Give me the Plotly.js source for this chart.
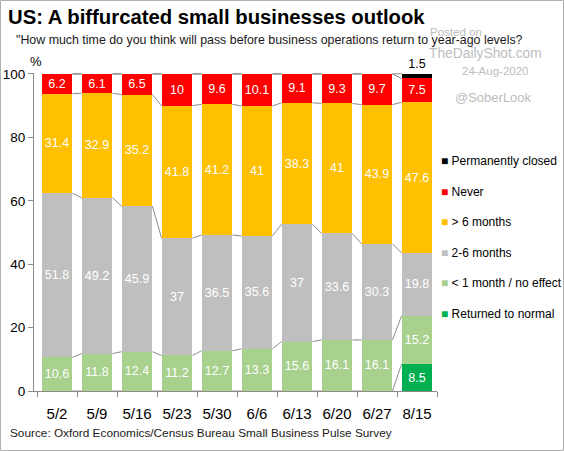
<!DOCTYPE html>
<html><head><meta charset="utf-8">
<script src="https://cdn.plot.ly/plotly-3.0.1.min.js"></script>
<style>html,body{margin:0;padding:0;background:#fff;} #chart{width:564px;height:451px;}</style>
</head><body><div id="chart"></div>
<script>
// ---- data ----
const categories = ['5/2','5/9','5/16','5/23','5/30','6/6','6/13','6/20','6/27','8/15'];
const returnedToNormal  = [0, 0, 0, 0, 0, 0, 0, 0, 0, 8.5];
const lessThan1Month    = [10.6, 11.8, 12.4, 11.2, 12.7, 13.3, 15.6, 16.1, 16.1, 15.2];
const twoToSixMonths    = [51.8, 49.2, 45.9, 37, 36.5, 35.6, 37, 33.6, 30.3, 19.8];
const moreThan6Months   = [31.4, 32.9, 35.2, 41.8, 41.2, 41, 38.3, 41, 43.9, 47.6];
const never             = [6.2, 6.1, 6.5, 10, 9.6, 10.1, 9.1, 9.3, 9.7, 7.5];
const permanentlyClosed = [0, 0, 0, 0, 0, 0, 0, 0, 0, 1.5];
const seriesNames = ['Returned to normal', '< 1 month / no effect', '2-6 months', '> 6 months', 'Never', 'Permanently closed'];
const yTicks = [0, 20, 40, 60, 80, 100];

// ---- styling ----
const seriesValues = [returnedToNormal, lessThan1Month, twoToSixMonths, moreThan6Months, never, permanentlyClosed];
const seriesColors = ['#00B050', '#A9D18E', '#BFBFBF', '#FFC000', '#FF0000', '#000000'];
const FONT = 'Liberation Sans, Arial, sans-serif';
const W = 564, H = 451, L = 34, R = 127, T = 73, B = 60;
const PW = W - L - R, PH = H - T - B;
const px = x => (x - L) / PW;
const py = y => (H - B - y) / PH;
const BW = 0.77;
const idx = categories.map((c, i) => i);

const traces = [];
seriesValues.forEach((vals, s) => {
  const isTop = s === seriesValues.length - 1;
  traces.push({
    type: 'bar', x: idx, y: vals, name: seriesNames[s], width: BW,
    marker: {color: seriesColors[s], line: {width: 0}},
    text: vals.map(v => v > 0 ? String(v) : ''),
    textposition: isTop ? 'outside' : 'inside',
    insidetextanchor: 'middle',
    constraintext: 'none',
    textangle: 0,
    textfont: {family: FONT, size: 12.5, color: isTop ? '#000' : '#fff'},
    cliponaxis: false,
    showlegend: false,
    hoverinfo: 'skip'
  });
});

// series lines connecting stacked levels between adjacent bars
const cum = [];
seriesValues.forEach((vals, s) => {
  cum.push(vals.map((v, i) => v + (s > 0 ? cum[s - 1][i] : 0)));
});
const slx = [], sly = [];
cum.forEach(level => {
  for (let i = 0; i < categories.length - 1; i++) {
    slx.push(i + BW / 2, i + 1 - BW / 2, null);
    sly.push(level[i], level[i + 1], null);
  }
});
traces.push({type: 'scatter', mode: 'lines', x: slx, y: sly, line: {color: '#6f6f6f', width: 0.8},
  showlegend: false, hoverinfo: 'skip', cliponaxis: false});

// legend drawn as text entries
const annotations = [];
const legendOrder = seriesNames.map((n, s) => s).reverse();
const esc = t => t.replace(/</g, '&lt;').replace(/>/g, '&gt;');
legendOrder.forEach((s, k) => {
  annotations.push({xref: 'paper', yref: 'paper', x: px(439), y: py(161 + k * 30.6), xanchor: 'left', yanchor: 'middle',
    showarrow: false, align: 'left',
    text: '<span style="color:' + seriesColors[s] + '">\u25A0</span> ' + esc(seriesNames[s]),
    font: {family: FONT, size: 12, color: '#000'}});
});

const txt = (text, x, y, xa, size, color, extra) => Object.assign({xref: 'paper', yref: 'paper', x: px(x), y: py(y),
  xanchor: xa, yanchor: 'middle', showarrow: false, text: text, font: {family: FONT, size: size, color: color}}, extra || {});

annotations.push(txt('"How much time do you think will pass before business operations return to year-ago levels?', 14, 40, 'left', 12.4, '#1a1a1a'));
annotations.push(txt('%', 36, 61, 'center', 13, '#000'));
annotations.push(txt('Posted on', 428, 32, 'left', 11.5, '#bdbdbd'));
annotations.push(txt('TheDailyShot.com', 427, 54, 'left', 13.8, '#bdbdbd'));
annotations.push(txt('24-Aug-2020', 531, 71, 'right', 11.5, '#bdbdbd'));
annotations.push(txt('@SoberLook', 534, 97, 'right', 13, '#bdbdbd'));
annotations.push(txt('Source: Oxford Economics/Census Bureau Small Business Pulse Survey', 8, 433, 'left', 11.8, '#1a1a1a'));

const layout = {
  width: W, height: H,
  margin: {l: L, r: R, t: T, b: B, pad: 0},
  paper_bgcolor: '#fff', plot_bgcolor: '#fff',
  barmode: 'stack',
  showlegend: false,
  font: {family: FONT, color: '#000'},
  title: {text: 'US: A biffurcated small businesses outlook', xref: 'container', yref: 'container',
    x: 8 / W, xanchor: 'left', y: 1 - 17 / H, yanchor: 'middle',
    font: {family: FONT, size: 20.3, weight: 'bold', color: '#000'}},
  xaxis: {range: [-0.575, categories.length - 0.5], tickmode: 'array', tickvals: idx, ticktext: categories,
    ticks: '', showline: true, linecolor: '#8a8a8a', linewidth: 1, showgrid: false, zeroline: false,
    tickfont: {family: FONT, size: 15, color: '#000'}, ticklabelstandoff: 9,
    minor: {tickmode: 'array', tickvals: idx.concat([categories.length]).map(i => i - 0.5),
      ticks: 'outside', ticklen: 5, tickwidth: 1, tickcolor: '#8a8a8a', showgrid: false}},
  yaxis: {range: [0, 100.3], tickmode: 'array', tickvals: yTicks, ticks: 'outside', ticklen: 5, tickcolor: '#8a8a8a',
    showline: true, linecolor: '#8a8a8a', linewidth: 1, showgrid: false, zeroline: false,
    tickfont: {family: FONT, size: 13.5, color: '#000'}},
  annotations: annotations,
  shapes: [{type: 'rect', xref: 'paper', yref: 'paper', x0: px(0.5), x1: px(563.5), y0: py(450.5), y1: py(0.5),
    line: {color: '#b0b0b0', width: 1}, fillcolor: 'rgba(0,0,0,0)', layer: 'above'}]
};

Plotly.newPlot('chart', traces, layout, {displayModeBar: false, staticPlot: true});
</script>
</body></html>
